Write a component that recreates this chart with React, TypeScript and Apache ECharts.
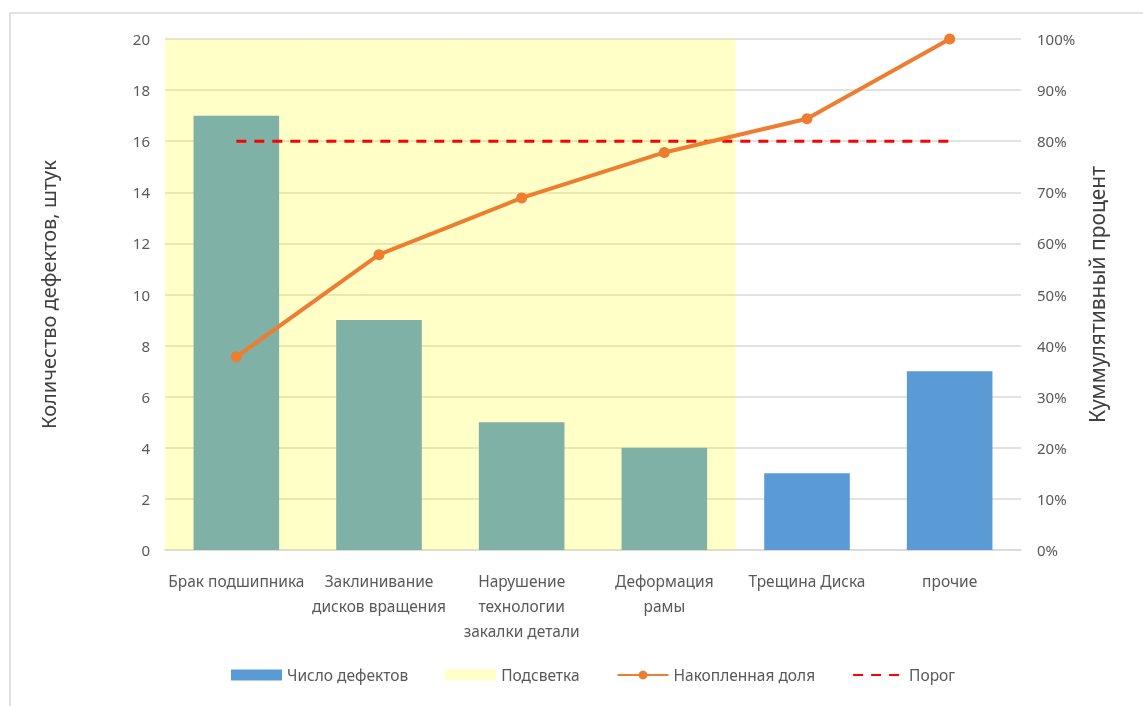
import React, { useEffect, useRef } from "react";
import * as echarts from "echarts";

const categories = [
  "Брак подшипника",
  "Заклинивание\nдисков вращения",
  "Нарушение\nтехнологии\nзакалки детали",
  "Деформация\nрамы",
  "Трещина Диска",
  "прочие",
];
const defects = [17, 9, 5, 4, 3, 7];
const highlight = [20, 20, 20, 20, "-", "-"];
const cumulative = [37.8, 57.8, 68.9, 77.8, 84.4, 100];
const threshold = [80, 80, 80, 80, 80, 80];

const FONT = "Noto Sans";
const LABEL = "#595959";

export default function App() {
  const ref = useRef<HTMLDivElement>(null);
  useEffect(() => {
    if (!ref.current) return;
    const chart = echarts.init(ref.current, null, { renderer: "svg" });
    chart.setOption({
      animation: false,
      textStyle: { fontFamily: FONT },
      graphic: [
        {
          type: "rect",
          shape: { x: 10, y: 13, width: 1150, height: 710 },
          style: { fill: "none", stroke: "#d9d9d9", lineWidth: 1.5 },
          silent: true,
        },
      ],
      grid: { left: 165, right: 122, top: 39, bottom: 156 },
      legend: {
        bottom: 18,
        left: 226,
        itemWidth: 51,
        itemHeight: 11,
        itemGap: 37,
        textStyle: { color: LABEL, fontSize: 15.5, fontFamily: FONT },
        data: [
          { name: "Число дефектов", icon: "rect" },
          { name: "Подсветка", icon: "rect" },
          { name: "Накопленная доля" },
          {
            name: "Порог",
            itemStyle: { color: "rgba(0,0,0,0)", borderWidth: 0 },
          },
        ],
      },
      xAxis: [
        {
          type: "category",
          data: categories,
          axisLine: { lineStyle: { color: "#d9d9d9", width: 1.5 } },
          axisTick: { show: false },
          axisLabel: {
            color: LABEL,
            fontSize: 15.5,
            lineHeight: 25,
            margin: 18,
            interval: 0,
            fontFamily: FONT,
          },
        },
        {
          type: "category",
          data: categories,
          show: false,
        },
      ],
      yAxis: [
        {
          type: "value",
          min: 0,
          max: 20,
          interval: 2,
          name: "Количество дефектов, штук",
          nameLocation: "middle",
          nameRotate: 90,
          nameGap: 107,
          nameTextStyle: { color: "#404040", fontSize: 20, fontFamily: FONT },
          axisLine: { show: false },
          axisTick: { show: false },
          axisLabel: { color: LABEL, fontSize: 15, margin: 15, fontFamily: FONT },
          splitLine: { lineStyle: { color: "#d9d9d9", width: 1.5 } },
        },
        {
          type: "value",
          min: 0,
          max: 100,
          interval: 10,
          name: "Куммулятивный процент",
          nameLocation: "middle",
          nameRotate: 90,
          nameGap: 65,
          nameTextStyle: { color: "#404040", fontSize: 21, fontFamily: FONT },
          axisLine: { show: false },
          axisTick: { show: false },
          axisLabel: {
            color: LABEL,
            fontSize: 15,
            margin: 16,
            formatter: "{value}%",
            fontFamily: FONT,
          },
          splitLine: { show: false },
        },
      ],
      series: [
        {
          name: "Число дефектов",
          type: "bar",
          data: defects,
          barWidth: "60%",
          itemStyle: { color: "#5b9bd5" },
          z: 2,
        },
        {
          name: "Подсветка",
          type: "bar",
          xAxisIndex: 1,
          data: highlight,
          barWidth: "100%",
          itemStyle: { color: "rgba(255,255,0,0.22)" },
          z: 3,
        },
        {
          name: "Накопленная доля",
          type: "line",
          yAxisIndex: 1,
          data: cumulative,
          symbol: "circle",
          symbolSize: 11,
          itemStyle: { color: "#ed7d31" },
          lineStyle: { color: "#ed7d31", width: 4 },
          z: 5,
        },
        {
          name: "Порог",
          type: "line",
          yAxisIndex: 1,
          data: threshold,
          showSymbol: false,
          symbol: "none",
          itemStyle: { color: "#ff0000" },
          lineStyle: { color: "#ff0000", width: 3, type: [10, 8] },
          z: 4,
        },
      ],
    });
    return () => chart.dispose();
  }, []);
  return (
    <div
      ref={ref}
      style={{ position: "fixed", left: 0, top: 0, width: 1143, height: 706 }}
    />
  );
}
